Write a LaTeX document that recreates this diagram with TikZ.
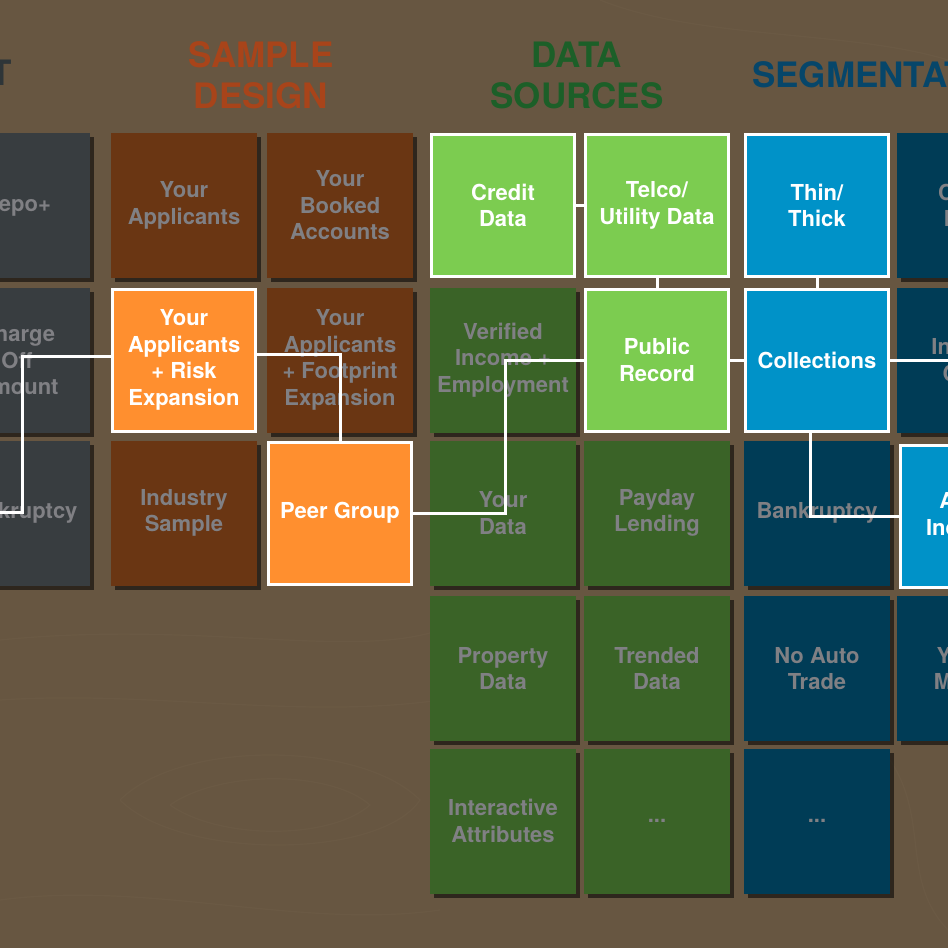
\documentclass[tikz,border=0pt]{standalone}
\usepackage{fontspec}
\setmainfont{TeX Gyre Heros}
\usetikzlibrary{shadows}
\definecolor{woodc}{HTML}{675641}
\definecolor{grainc}{HTML}{7A6850}
\definecolor{graytile}{HTML}{383D40}
\definecolor{browntile}{HTML}{6A3613}
\definecolor{greentile}{HTML}{3A6327}
\definecolor{bluetile}{HTML}{003C56}
\definecolor{orangehl}{HTML}{FF8F2F}
\definecolor{greenhl}{HTML}{7CCC50}
\definecolor{bluehl}{HTML}{0092C8}
\definecolor{dimtext}{HTML}{808084}
\definecolor{hdbrown}{HTML}{A8441A}
\definecolor{hdgreen}{HTML}{1C5F28}
\definecolor{hdblue}{HTML}{06466A}
\definecolor{hdgray}{HTML}{2E3538}
\newcommand\tilefont{\fontsize{22}{26.5}\selectfont\bfseries}
\newcommand\headfont{\fontsize{35}{41}\selectfont\bfseries}
\tikzset{
  tile/.style={rectangle, minimum width=146pt, minimum height=145pt, inner sep=0pt,
    align=center, font=\tilefont, text=dimtext},
  dimtile/.style={tile, fill=#1, drop shadow={shadow xshift=4pt, shadow yshift=-4pt, fill=black, opacity=0.55}},
  hltile/.style={tile, fill=#1, draw=white, line width=3pt, minimum width=143pt,
    minimum height=142pt, text=white},
  header/.style={font=\headfont, align=center, inner sep=0pt},
  link/.style={draw=white, line width=3pt}
}
\begin{document}
\begin{tikzpicture}[x=1pt,y=-1pt]
\useasboundingbox (0,0) rectangle (948,948);
\clip (0,0) rectangle (948,948);
\fill[woodc] (0,0) rectangle (948,948);
% faint wood grain
\begin{scope}[grainc, opacity=0.2, line width=1.2pt]
\draw (0,640) .. controls (200,620) and (350,660) .. (440,630);
\draw (0,700) .. controls (150,690) and (300,720) .. (440,700);
\draw (120,800) .. controls (180,740) and (360,740) .. (420,800) .. controls (380,860) and (180,860) .. (120,800);
\draw (170,805) .. controls (220,770) and (330,770) .. (370,805) .. controls (330,840) and (220,840) .. (170,805);
\draw (0,900) .. controls (150,880) and (300,930) .. (440,910);
\draw (890,760) .. controls (930,820) and (900,880) .. (948,930);
\draw (600,0) .. controls (700,40) and (850,30) .. (948,60);
\end{scope}
% headers
\node[header, text=hdgray, anchor=base east] (hT) at (12,85) {TARGET};
\node[header, text=hdbrown] (hSD) at (261,75) {SAMPLE\\DESIGN};
\node[header, text=hdgreen] (hDS) at (577,75) {DATA\\SOURCES};
\node[header, text=hdblue, anchor=base west] (hSG) at (752,87) {SEGMENTATION};
% column A (target)
\node[dimtile=graytile] (a1) at (17,205.5) {Repo+};
\node[dimtile=graytile] (a2) at (17,360) {Charge\\Off\\Amount};
\node[dimtile=graytile] (a3) at (17,513) {Bankruptcy};
% sample design
\node[dimtile=browntile] (b1) at (184,205.5) {Your\\Applicants};
\node[dimtile=browntile] (b3) at (184,513) {Industry\\Sample};
\node[dimtile=browntile] (c1) at (340,205.5) {Your\\Booked\\Accounts};
\node[dimtile=browntile] (c2) at (340,360) {Your\\Applicants\\+ Footprint\\Expansion};
% data sources
\node[dimtile=greentile] (d2) at (503,360) {Verified\\Income +\\Employment};
\node[dimtile=greentile] (d3) at (503,513) {Your\\Data};
\node[dimtile=greentile] (d4) at (503,668.5) {Property\\Data};
\node[dimtile=greentile] (d5) at (503,821) {Interactive\\Attributes};
\node[dimtile=greentile] (e3) at (657,513) {Payday\\Lending};
\node[dimtile=greentile] (e4) at (657,668.5) {Trended\\Data};
\node[dimtile=greentile] (e5) at (657,821) {...};
% segmentation
\node[dimtile=bluetile] (f3) at (817,513) {Bankruptcy};
\node[dimtile=bluetile] (f4) at (817,668.5) {No Auto\\Trade};
\node[dimtile=bluetile] (f5) at (817,821) {...};
\node[dimtile=bluetile] (g1) at (970,205.5) {Credit\\Limit};
\node[dimtile=bluetile] (g2) at (970,360) {Income\\Code};
\node[dimtile=bluetile] (g4) at (970,668.5) {Young\\Mature};
% highlighted
\node[hltile=orangehl] (ra) at (184,360) {Your\\Applicants\\+ Risk\\Expansion};
\node[hltile=orangehl] (pg) at (340,513) {Peer Group};
\node[hltile=greenhl] (cd) at (503,205.5) {Credit\\Data};
\node[hltile=greenhl] (tu) at (657,205.5) {Telco/\\Utility Data};
\node[hltile=greenhl] (pr) at (657,360) {Public\\Record};
\node[hltile=bluehl] (tt) at (817,205.5) {Thin/\\Thick};
\node[hltile=bluehl] (co) at (817,360) {Collections};
\node[hltile=bluehl] (ai) at (972,516) {Active\\Inquiries};
% connector bend points
\coordinate (k1) at (22,356);
\coordinate (k2) at (22,512);
\coordinate (kl) at (-12,512);
\coordinate (k3) at (505,513);
\coordinate (kr) at (960,360);
% connectors
\draw[link] ([yshift=4pt]ra.west) -- (k1) -- (k2) -- (kl);
\draw[link] ([yshift=6pt]ra.east) -| (pg.north);
\draw[link] (pg.east) -- (k3) |- (pr.west);
\draw[link] (cd.east) -- (tu.west);
\draw[link] (tu.south) -- (pr.north);
\draw[link] (pr.east) -- (co.west);
\draw[link] (tt.south) -- (co.north);
\draw[link] (co.east) -- (kr);
\draw[link] ([xshift=-7pt]co.south) |- (ai.west);
\end{tikzpicture}
\end{document}
